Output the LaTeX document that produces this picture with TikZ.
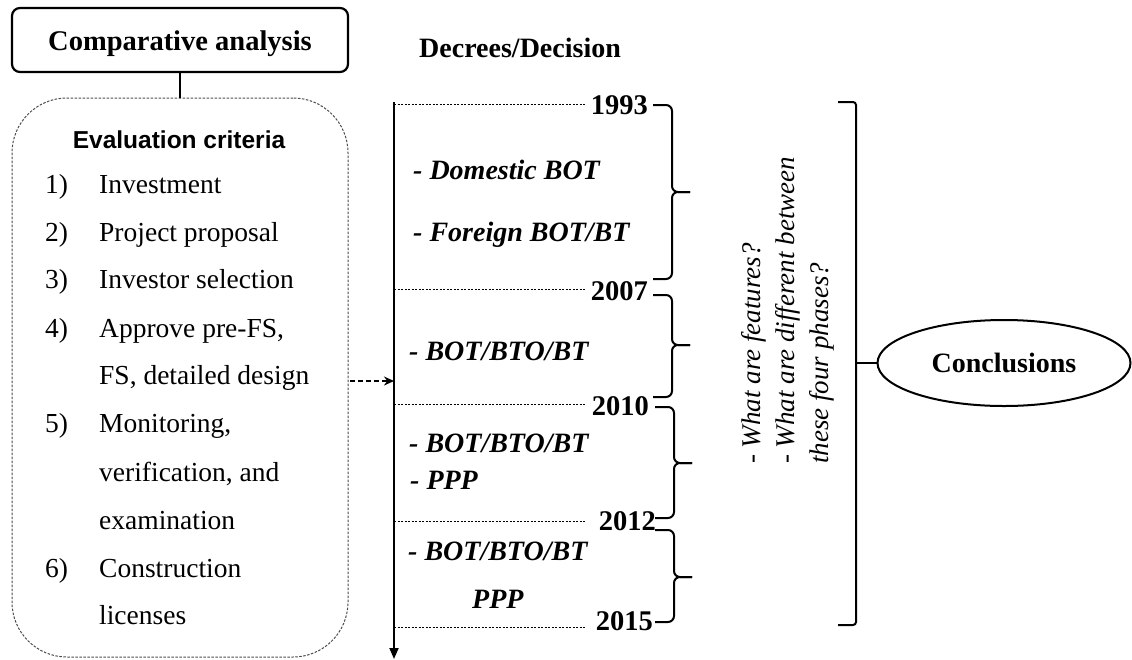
\documentclass[tikz,border=0pt]{standalone}
\usepackage{fontspec}
\setmainfont{Liberation Serif}
\newfontfamily\critfont{Liberation Sans}
\usetikzlibrary{arrows.meta,shapes.geometric}
% right-hand brace of one phase: #1 left x, #2 top y, #3 bottom y, #4 tip y
\newcommand\phasebrace[4]{%
  \draw[bracepath] (#1,#2) -- ++(19,0) -- (#1+19,#4) -- ++(18,0);
  \draw[bracepath] (#1,#3) -- ++(19,0) -- (#1+19,#4) -- ++(18,0);}
\begin{document}
\begin{tikzpicture}[x=1pt,y=-1pt,
  box/.style={draw, line width=2.2pt, rounded corners=8pt},
  item/.style={anchor=base west, inner sep=0pt, font=\fontsize{27.5}{33}\selectfont},
  decree/.style={anchor=base west, inner sep=0pt, font=\fontsize{28}{34}\selectfont\bfseries\itshape},
  yearlbl/.style={anchor=base east, inner sep=0pt, font=\fontsize{28.5}{34}\selectfont\bfseries},
  tick/.style={line width=0.8pt, dash pattern=on 2pt off 1.5pt},
  bracepath/.style={line width=2pt, rounded corners=6pt},
  question/.style={rotate=90, anchor=base west, inner sep=0pt, font=\fontsize{27}{32}\selectfont\itshape},
]
\useasboundingbox (0,0) rectangle (1132,659);

% top box and criteria panel
\node[box, minimum width=336pt, minimum height=64pt, inner sep=0pt,
      text height=22pt, text depth=2pt,
      font=\fontsize{28.5}{34}\selectfont\bfseries] (cmp) at (180,40) {Comparative analysis};
\node[draw=black!70, line width=1pt, dash pattern=on 2.5pt off 1.5pt,
      rounded corners=55pt, minimum width=336pt, minimum height=559pt,
      inner sep=0pt] (crit) at (180,377.5) {};
\draw[line width=1.8pt] (cmp.south) -- (crit.north);

\node[anchor=base, inner sep=0pt, font=\critfont\fontsize{24.5}{28}\selectfont\bfseries]
  (crittitle) at (179,148) {Evaluation criteria};

% numbered criteria
\node[item] (n1) at (45,193) {1)};
\node[item] (n2) at (45,241) {2)};
\node[item] (n3) at (45,288) {3)};
\node[item] (n4) at (45,337) {4)};
\node[item] (n5) at (45,432) {5)};
\node[item] (n6) at (45,577) {6)};
\node[item] (c1)  at (99,193) {Investment};
\node[item] (c2)  at (99,241) {Project proposal};
\node[item] (c3)  at (99,288) {Investor selection};
\node[item] (c4a) at (99,337) {Approve pre-FS,};
\node[item] (c4b) at (99,384) {FS, detailed design};
\node[item] (c5a) at (99,432) {Monitoring,};
\node[item] (c5b) at (99,481) {verification, and};
\node[item] (c5c) at (99,529) {examination};
\node[item] (c6a) at (99,577) {Construction};
\node[item] (c6b) at (99,624) {licenses};

% time axis
\node[anchor=base west, inner sep=0pt, font=\fontsize{28}{34}\selectfont\bfseries]
  (dtitle) at (419,57) {Decrees/Decision};
\coordinate (tltop) at (394,102);
\coordinate (tlend) at (394,659);
\draw[line width=1.8pt, -{Triangle[length=11pt,width=9pt]}] (tltop) -- (tlend);

\coordinate (darr) at (350,381);
\draw[line width=2.2pt, dash pattern=on 5pt off 3pt, -{Stealth[length=10pt,width=9pt]}]
  (darr) -- (darr -| tltop);

\coordinate (t1) at (585,104);
\coordinate (t2) at (585,289);
\coordinate (t3) at (585,404);
\coordinate (t4) at (585,521);
\coordinate (t5) at (585,627);
\foreach \t in {t1,t2,t3,t4,t5} \draw[tick] (\t -| tltop) -- (\t);

\node[yearlbl] (y1993) at (648,114) {1993};
\node[yearlbl] (y2007) at (648,300) {2007};
\node[yearlbl] (y2010) at (649,415) {2010};
\node[yearlbl] (y2012) at (656,530) {2012};
\node[yearlbl] (y2015) at (653,630) {2015};

\node[decree] (d1a) at (413,179) {- Domestic BOT};
\node[decree] (d1b) at (413,241) {- Foreign BOT/BT};
\node[decree] (d2)  at (409,360) {- BOT/BTO/BT};
\node[decree] (d3a) at (409,452) {- BOT/BTO/BT};
\node[decree] (d3b) at (410,489) {- PPP};
\node[decree] (d4a) at (408,560) {- BOT/BTO/BT};
\node[decree] (d4b) at (472,608) {PPP};

% phase braces
\phasebrace{653}{105}{279}{192}
\phasebrace{653}{295}{397}{345}
\phasebrace{655}{407}{518}{463}
\phasebrace{655}{530}{622}{577}

% questions
\node[question] (q1) at (760,464) {- What are features?};
\node[question] (q2) at (794,464) {- What are different between};
\node[question] (q3) at (828,464) {these four phases?};

% closing bracket and conclusions
\draw[line width=2pt, rounded corners=3pt] (838,102) -- (856,102) -- (856,625) -- (838,625);
\node[ellipse, draw, line width=2pt, minimum width=253pt, minimum height=86pt, inner sep=0pt,
      font=\fontsize{28}{34}\selectfont\bfseries] (concl) at (1004,363) {Conclusions};
\coordinate (brk) at (856,363);
\draw[line width=2pt] (brk) -- (concl.west);
\end{tikzpicture}
\end{document}
